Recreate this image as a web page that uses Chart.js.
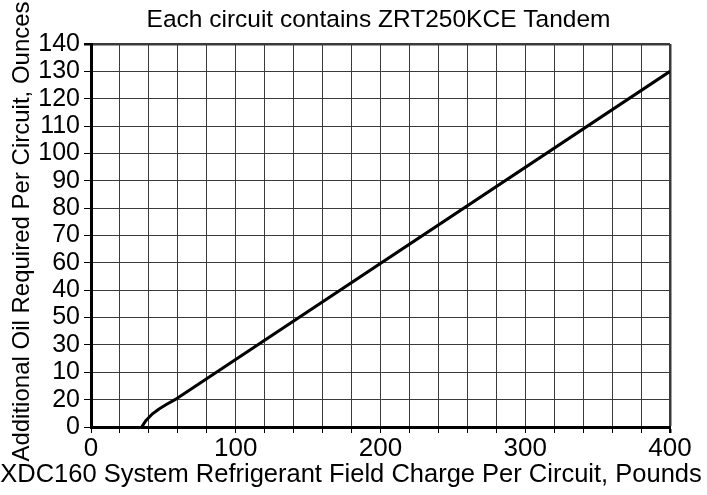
<!DOCTYPE html>
<html>
<head>
<meta charset="utf-8">
<script src="https://cdn.jsdelivr.net/npm/chart.js@4/dist/chart.umd.min.js"></script>
<style>
  html, body { margin: 0; padding: 0; background: #fff; }
  #wrap { width: 707px; height: 495px; }
</style>
</head>
<body>
<div id="wrap"><canvas id="c" width="707" height="495"></canvas></div>
<script>
// Field charge (lb) vs additional oil (oz) per circuit
const chargeLb = [35, 38, 42, 47, 52, 58, 400];
const oilOz = [0, 2.4, 4.6, 6.6, 8.2, 10, 130];

// Tick labels on the oil axis, bottom to top (one per 10 oz step)
const oilTickLabels = ['0', '20', '10', '30', '50', '40', '60', '70', '80', '90', '100', '110', '120', '130', '140'];
// Labelled charge ticks
const chargeTickLabels = ['0', '100', '200', '300', '400'];

const chartTitle = 'Each circuit contains ZRT250KCE Tandem';
const xTitle = 'XDC160 System Refrigerant Field Charge Per Circuit, Pounds';
const yTitle = 'Additional Oil Required Per Circuit, Ounces';

const FONT = '"Liberation Sans", Arial, Helvetica, sans-serif';
const NARROW = '"Liberation Sans Narrow", "Arial Narrow", "Liberation Sans", sans-serif';
const GRID = '#3a3a3a';

// Chart title and both axis titles, placed around the plot frame
const titlesPlugin = {
  id: 'titles',
  afterDraw(chart) {
    const { ctx, chartArea: a } = chart;
    ctx.save();
    ctx.fillStyle = '#000';
    ctx.textBaseline = 'alphabetic';

    ctx.font = '24.5px ' + FONT;
    ctx.textAlign = 'center';
    ctx.fillText(chartTitle, (a.left + a.right) / 2 - 2, a.top - 17);

    ctx.font = '25.5px ' + FONT;
    ctx.fillText(xTitle, 351, 482);

    ctx.font = '24px ' + FONT;
    ctx.translate(29, (a.top + a.bottom) / 2 - 4);
    ctx.rotate(-Math.PI / 2);
    ctx.fillText(yTitle, 0, 0);
    ctx.restore();
  }
};

new Chart(document.getElementById('c'), {
  type: 'line',
  data: {
    datasets: [{
      data: chargeLb.map((x, i) => ({ x, y: oilOz[i] })),
      borderColor: '#000',
      borderWidth: 3,
      borderJoinStyle: 'round',
      pointRadius: 0,
      tension: 0,
      fill: false
    }]
  },
  options: {
    responsive: false,
    animation: false,
    layout: { padding: { left: 0, right: 37, top: 44, bottom: 0 } },
    plugins: {
      legend: { display: false },
      tooltip: { enabled: false },
      title: { display: false }
    },
    scales: {
      x: {
        type: 'linear',
        min: 0, max: 400,
        afterFit(scale) { scale.height = 68; },
        border: { color: '#000', width: 3 },
        grid: {
          color: GRID,
          lineWidth: ctx => (ctx.tick && ctx.tick.value === 400 ? 2.5 : 1),
          drawTicks: true,
          tickLength: 6,
          tickColor: '#000'
        },
        ticks: {
          stepSize: 20,
          autoSkip: false,
          maxRotation: 0,
          padding: 0,
          color: '#000',
          font: { family: NARROW, size: 26 },
          callback: v => (v % 100 === 0 ? chargeTickLabels[v / 100] : '')
        }
      },
      y: {
        type: 'linear',
        min: 0, max: 140,
        afterFit(scale) { scale.width = 91; },
        border: { color: '#000', width: 3 },
        grid: {
          color: GRID,
          lineWidth: ctx => (ctx.tick && ctx.tick.value === 140 ? 2.5 : 1),
          drawTicks: true,
          tickLength: 7,
          tickColor: '#000'
        },
        ticks: {
          stepSize: 10,
          autoSkip: false,
          padding: 4,
          color: '#000',
          font: { family: NARROW, size: 25 },
          callback: v => oilTickLabels[Math.round(v / 10)]
        }
      }
    }
  },
  plugins: [titlesPlugin]
});
</script>
</body>
</html>
